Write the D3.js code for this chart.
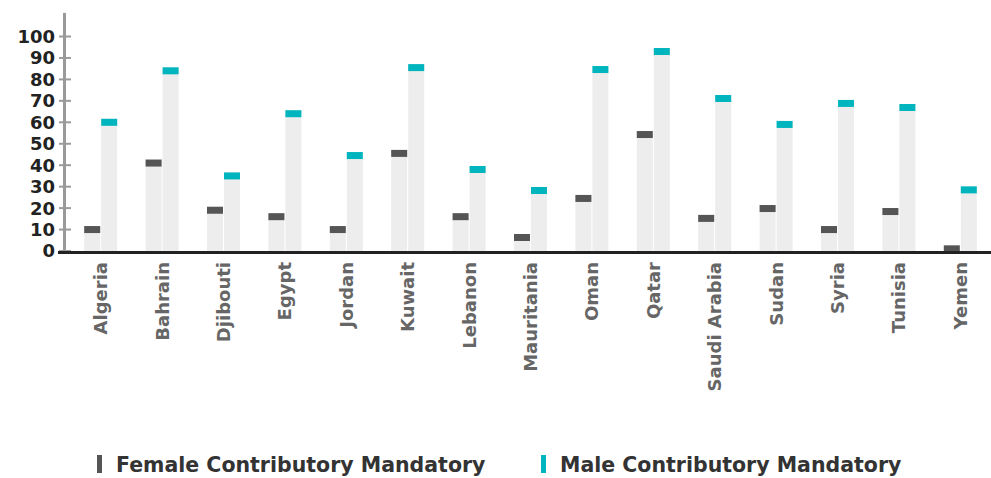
<!DOCTYPE html>
<html>
<head>
<meta charset="utf-8">
<script src="https://cdn.jsdelivr.net/npm/d3@7"></script>
<style>
  html, body { margin: 0; padding: 0; background: #fff; }
  svg { display: block; }
  text { font-family: "DejaVu Sans", sans-serif; font-weight: bold; }
</style>
</head>
<body>
<svg id="chart" width="991" height="478"></svg>
<script>
// Countries and coverage rates (%) for contributory mandatory schemes
const countries = ["Algeria", "Bahrain", "Djibouti", "Egypt", "Jordan", "Kuwait", "Lebanon",
  "Mauritania", "Oman", "Qatar", "Saudi Arabia", "Sudan", "Syria", "Tunisia", "Yemen"];
const femaleValues = [10, 41, 19, 16, 10, 45.5, 16, 6.3, 24.5, 54.3, 15.2, 19.8, 10, 18.4, 1];
const maleValues = [60, 84, 35, 64, 44.5, 85.5, 38, 28.2, 84.6, 93, 71.1, 59, 68.8, 66.9, 28.5];
const yTicks = [0, 10, 20, 30, 40, 50, 60, 70, 80, 90, 100];
const seriesNames = ["Female Contributory Mandatory", "Male Contributory Mandatory"];
const seriesColors = ["#555555", "#00b5bd"];

const svg = d3.select("#chart");

const x = d3.scaleBand().domain(countries).range([70, 991]).padding(0);
const y = d3.scaleLinear().domain([0, 100]).range([251, 36.5]);

const barW = 16, barGap = 1, capH = 7;
const series = [femaleValues, maleValues];

// Light background bars topped by a coloured marker at each value
series.forEach((vals, si) => {
  const g = svg.append("g");
  const xPos = c => x(c) + x.bandwidth() / 2 - barW - barGap / 2 + si * (barW + barGap);
  g.selectAll("rect.bg").data(countries).join("rect")
    .attr("class", "bg")
    .attr("x", xPos)
    .attr("width", barW)
    .attr("y", (c, i) => y(vals[i]) - capH / 2)
    .attr("height", (c, i) => Math.max(0, y(0) - (y(vals[i]) - capH / 2)))
    .attr("fill", "#ededed");
  g.selectAll("rect.cap").data(countries).join("rect")
    .attr("class", "cap")
    .attr("x", xPos)
    .attr("width", barW)
    .attr("y", (c, i) => y(vals[i]) - capH / 2)
    .attr("height", capH)
    .attr("fill", seriesColors[si]);
});

// Y axis
const yAxis = svg.append("g");
yAxis.append("line")
  .attr("x1", 64.5).attr("x2", 64.5)
  .attr("y1", y(0)).attr("y2", y(111))
  .attr("stroke", "#9a9a9a").attr("stroke-width", 3);
yAxis.selectAll("line.tick").data(yTicks).join("line")
  .attr("class", "tick")
  .attr("x1", 59).attr("x2", 71)
  .attr("y1", d => y(d)).attr("y2", d => y(d))
  .attr("stroke", "#9a9a9a").attr("stroke-width", 2);
yAxis.selectAll("text").data(yTicks).join("text")
  .attr("x", 55)
  .attr("y", d => y(d))
  .attr("dy", "0.36em")
  .attr("text-anchor", "end")
  .attr("font-size", 18)
  .attr("fill", "#222")
  .text(d => d);

// X axis baseline and rotated category labels
svg.append("line")
  .attr("x1", 58).attr("x2", 991)
  .attr("y1", 252.5).attr("y2", 252.5)
  .attr("stroke", "#222").attr("stroke-width", 3);

svg.append("g").selectAll("text").data(countries).join("text")
  .attr("transform", c => `translate(${x(c) + x.bandwidth() / 2},262) rotate(-90)`)
  .attr("text-anchor", "end")
  .attr("dy", "0.36em")
  .attr("font-size", 18)
  .attr("fill", "#666")
  .text(c => c);

// Legend
const legendX = [97, 541];
const legend = svg.append("g");
seriesNames.forEach((name, i) => {
  legend.append("rect")
    .attr("x", legendX[i]).attr("y", 455)
    .attr("width", 5).attr("height", 18)
    .attr("fill", seriesColors[i]);
  legend.append("text")
    .attr("x", legendX[i] + 19).attr("y", 472)
    .attr("font-size", 20.5)
    .attr("fill", "#333")
    .text(name);
});
</script>
</body>
</html>
